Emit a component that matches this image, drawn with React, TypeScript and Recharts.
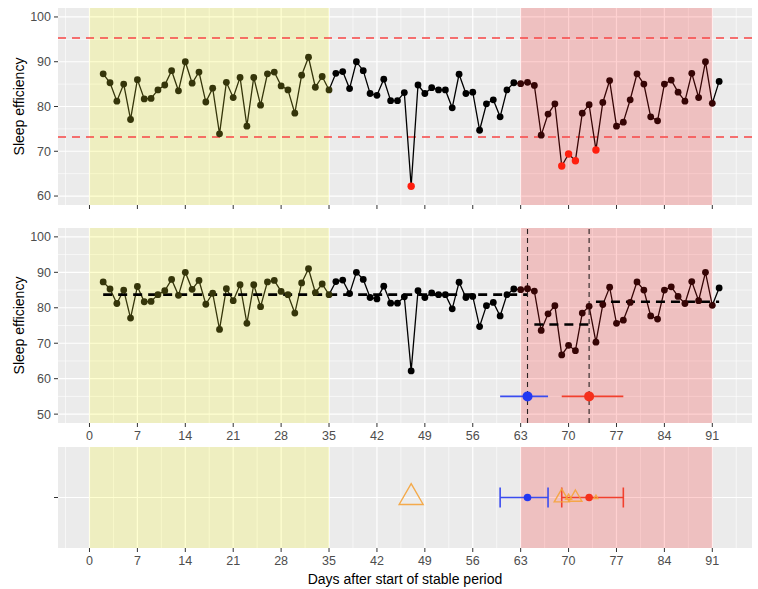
import {
  ComposedChart,
  Line,
  Scatter,
  XAxis,
  YAxis,
  CartesianGrid,
  ReferenceArea,
  ReferenceLine,
  ReferenceDot,
  ErrorBar,
} from 'recharts';

// Nightly sleep efficiency, one value per day starting at day 2
const FIRST_DAY = 2;
const sleepEfficiency = [
  87.3, 85.3, 81.2, 85.0, 77.1, 86.0, 81.7, 81.8, 83.7, 84.8, // 2-11
  88.0, 83.5, 90.0, 85.2, 87.7, 81.0, 84.1, 73.9, 85.4, 82.0, // 12-21
  86.5, 75.6, 86.5, 80.3, 87.3, 87.7, 84.6, 83.7, 78.5, 87.0, // 22-31
  91.0, 84.3, 86.7, 83.7, 87.4, 87.8, 84.0, 90.0, 88.0, 82.9, // 32-41
  82.5, 86.1, 81.3, 81.3, 83.1, 62.2, 84.8, 82.9, 84.2, 83.7, // 42-51
  83.7, 79.7, 87.2, 82.9, 83.2, 74.7, 80.6, 81.5, 77.7, 83.7, // 52-61
  85.3, 85.1, 85.4, 84.7, 73.6, 78.3, 80.6, 66.7, 69.4, 67.9, // 62-71
  78.5, 80.4, 70.3, 80.9, 85.8, 75.6, 76.5, 81.5, 87.3, 85.0, // 72-81
  77.7, 76.8, 85.0, 85.9, 83.2, 81.2, 87.4, 82.0, 90.0, 80.7, // 82-91
  85.6, // 92
];

const xTicks = [0, 7, 14, 21, 28, 35, 42, 49, 56, 63, 70, 77, 84, 91];
const xMinor = [-3.5, 3.5, 10.5, 17.5, 24.5, 31.5, 38.5, 45.5, 52.5, 59.5, 66.5, 73.5, 80.5, 87.5, 94.5];
const X_DOMAIN = [-4.6, 96.8];

const stablePeriod = [0, 35];
const testPeriod = [63, 91];

// top panel: control limits
const topTicks = [60, 70, 80, 90, 100];
const topMinor = [65, 75, 85, 95];
const upperLimit = 95.3;
const lowerLimit = 73.2;

// middle panel: segment means and change points
const midTicks = [50, 60, 70, 80, 90, 100];
const midMinor = [55, 65, 75, 85, 95];
const segStart = [2, 65, 74];
const segEnd = [64, 73, 92];
const segMean = [83.7, 75.3, 81.7];
const changeDays = [64, 73];
const changeLow = [60, 69];
const changeHigh = [67, 78];
const changeColors = ['#2438f2', '#f5301c'];
const changeLineColors = ['#3a4cf0', '#f2402e'];
const ESTIMATE_Y = 55;

// bottom panel: flagged nights
const flagDays = [47, 69, 70, 71, 74];
const flagSizes = [24, 15, 6, 13, 4];

const series = sleepEfficiency.map((v, i) => ({ day: FIRST_DAY + i, eff: v }));
const LAST_DAY = series[series.length - 1].day;
const flags = flagDays.map((d, i) => ({ day: d, y: 1, size: flagSizes[i] }));
const estimates = changeDays.map((d, i) => ({
  day: d,
  y: 1,
  err: [d - changeLow[i], changeHigh[i] - d],
}));

const FONT = '"Liberation Sans", Arial, Helvetica, sans-serif';
const tickStyle = { fill: '#4d4d4d', fontSize: 12.5, fontFamily: FONT };
const tickLine = { stroke: '#333333' };
const PANEL_BG = '#ebebeb';
const SHADE_OPACITY = 0.18;

// black marks seen through the translucent period shading
const INK = '#000000';
const INK_STABLE = '#35350a';
const INK_TEST = '#360505';
const OUTLIER = '#ff1e0e';

const inStable = (d: number) => d >= stablePeriod[0] && d <= stablePeriod[1];
const inTest = (d: number) => d >= testPeriod[0] && d <= testPeriod[1];
const inkFor = (d: number) => (inStable(d) ? INK_STABLE : inTest(d) ? INK_TEST : INK);

// line stroke tinted by period, stops relative to the line's bounding box
const frac = (d: number) => (d - FIRST_DAY) / (LAST_DAY - FIRST_DAY);
const LineGradient = ({ id }: { id: string }) => (
  <defs>
    <linearGradient id={id} x1="0" y1="0" x2="1" y2="0">
      <stop offset={0} stopColor={INK_STABLE} />
      <stop offset={frac(stablePeriod[1])} stopColor={INK_STABLE} />
      <stop offset={frac(stablePeriod[1])} stopColor={INK} />
      <stop offset={frac(testPeriod[0])} stopColor={INK} />
      <stop offset={frac(testPeriod[0])} stopColor={INK_TEST} />
      <stop offset={frac(testPeriod[1])} stopColor={INK_TEST} />
      <stop offset={frac(testPeriod[1])} stopColor={INK} />
      <stop offset={1} stopColor={INK} />
    </linearGradient>
  </defs>
);

const makeDot = (flagLow: boolean) => (p: any) => {
  const { cx, cy, payload, index } = p;
  const low = flagLow && payload.eff < lowerLimit;
  return <circle key={`d${index}`} cx={cx} cy={cy} r={low ? 3.7 : 3.4} fill={low ? OUTLIER : inkFor(payload.day)} />;
};

const yLabel = {
  value: 'Sleep efficiency',
  angle: -90,
  position: 'insideLeft' as const,
  offset: 19,
  style: { textAnchor: 'middle', fill: '#000', fontSize: 14, fontFamily: FONT },
};

const periodAreas = () => [
  <ReferenceArea
    key="stable"
    x1={stablePeriod[0]}
    x2={stablePeriod[1]}
    fill="#ffff00"
    fillOpacity={SHADE_OPACITY}
    stroke="none"
    ifOverflow="hidden"
  />,
  <ReferenceArea
    key="test"
    x1={testPeriod[0]}
    x2={testPeriod[1]}
    fill="#ff0000"
    fillOpacity={SHADE_OPACITY}
    stroke="none"
    ifOverflow="hidden"
  />,
];

const grids = (yMajor: number[], yMinor: number[]) => [
  <CartesianGrid
    key="minor"
    fill={PANEL_BG}
    stroke="#ffffff"
    strokeWidth={0.6}
    horizontalValues={yMinor}
    verticalValues={xMinor}
  />,
  <CartesianGrid
    key="major"
    stroke="#ffffff"
    strokeWidth={1.2}
    horizontalValues={yMajor}
    verticalValues={xTicks}
  />,
];

const Triangle = (props: any) => {
  const { cx, cy, payload } = props;
  const w = payload.size;
  const h = w * 0.866;
  const d = `M${cx},${cy - (2 * h) / 3} L${cx + w / 2},${cy + h / 3} L${cx - w / 2},${cy + h / 3} Z`;
  return <path d={d} fill="none" stroke="#f5a33a" strokeOpacity={0.9} strokeWidth={1.4} />;
};

const TopPanel = () => (
  <ComposedChart width={758} height={222} data={series} margin={{ top: 8, right: 6, left: 0, bottom: 5 }}>
    <LineGradient id="effTop" />
    {grids(topTicks, topMinor)}
    <XAxis
      dataKey="day"
      type="number"
      domain={X_DOMAIN}
      ticks={xTicks}
      axisLine={false}
      tickLine={tickLine}
      tickSize={4}
      tick={() => <g />}
      height={12}
      allowDataOverflow
    />
    <YAxis
      type="number"
      domain={[58, 102]}
      ticks={topTicks}
      axisLine={false}
      tickLine={tickLine}
      tickSize={4}
      tickMargin={3}
      tick={tickStyle}
      width={58}
      label={yLabel}
      allowDataOverflow
    />
    {periodAreas()}
    <ReferenceLine y={upperLimit} stroke="#f84646" strokeWidth={1.5} strokeDasharray="8 6" />
    <ReferenceLine y={lowerLimit} stroke="#f84646" strokeWidth={1.5} strokeDasharray="8 6" />
    <Line
      dataKey="eff"
      stroke="url(#effTop)"
      strokeWidth={1.3}
      dot={makeDot(true)}
      isAnimationActive={false}
    />
  </ComposedChart>
);

const MiddlePanel = () => (
  <ComposedChart width={758} height={230} data={series} margin={{ top: 10, right: 6, left: 0, bottom: 0 }}>
    <LineGradient id="effMid" />
    {grids(midTicks, midMinor)}
    <XAxis
      dataKey="day"
      type="number"
      domain={X_DOMAIN}
      ticks={xTicks}
      axisLine={false}
      tickLine={tickLine}
      tickSize={4}
      tickMargin={4}
      tick={tickStyle}
      height={25}
      allowDataOverflow
    />
    <YAxis
      type="number"
      domain={[47.5, 102.5]}
      ticks={midTicks}
      axisLine={false}
      tickLine={tickLine}
      tickSize={4}
      tickMargin={3}
      tick={tickStyle}
      width={58}
      label={yLabel}
      allowDataOverflow
    />
    {periodAreas()}
    <Line
      dataKey="eff"
      stroke="url(#effMid)"
      strokeWidth={1.3}
      dot={makeDot(false)}
      isAnimationActive={false}
    />
    {segMean.map((m, i) => (
      <ReferenceLine
        key={`seg${i}`}
        segment={[{ x: segStart[i], y: m }, { x: segEnd[i], y: m }]}
        stroke="#000"
        strokeWidth={2.6}
        strokeDasharray="9 6"
      />
    ))}
    {changeDays.map((d) => (
      <ReferenceLine key={`cp${d}`} x={d} stroke="#2a2020" strokeWidth={1.1} strokeDasharray="5 4" />
    ))}
    {changeDays.map((d, i) => (
      <ReferenceLine
        key={`ci${d}`}
        segment={[{ x: changeLow[i], y: ESTIMATE_Y }, { x: changeHigh[i], y: ESTIMATE_Y }]}
        stroke={changeLineColors[i]}
        strokeWidth={1.6}
      />
    ))}
    {changeDays.map((d, i) => (
      <ReferenceDot key={`pt${d}`} x={d} y={ESTIMATE_Y} r={5} fill={changeColors[i]} stroke="none" />
    ))}
  </ComposedChart>
);

const BottomPanel = () => (
  <ComposedChart width={758} height={149} margin={{ top: 7, right: 6, left: 0, bottom: 0 }}>
    <CartesianGrid
      fill={PANEL_BG}
      stroke="#ffffff"
      strokeWidth={0.6}
      horizontal={false}
      verticalValues={xMinor}
    />
    <CartesianGrid stroke="#ffffff" strokeWidth={1.2} horizontalValues={[1]} verticalValues={xTicks} />
    <XAxis
      dataKey="day"
      type="number"
      domain={X_DOMAIN}
      ticks={xTicks}
      axisLine={false}
      tickLine={tickLine}
      tickSize={4}
      tickMargin={4}
      tick={tickStyle}
      height={41}
      allowDataOverflow
      label={{
        value: 'Days after start of stable period',
        position: 'insideBottom',
        offset: 5,
        style: { fill: '#000', fontSize: 14, fontFamily: FONT },
      }}
    />
    <YAxis
      type="number"
      dataKey="y"
      domain={[0.4, 1.6]}
      ticks={[1]}
      tickFormatter={() => ''}
      axisLine={false}
      tickLine={tickLine}
      tickSize={4}
      width={58}
    />
    {periodAreas()}
    {estimates.map((e, i) => (
      <Scatter
        key={`est${i}`}
        data={[e]}
        dataKey="y"
        isAnimationActive={false}
        shape={(p: any) => <circle cx={p.cx} cy={p.cy} r={3.8} fill={changeColors[i]} />}
      >
        <ErrorBar dataKey="err" direction="x" width={10} stroke={changeLineColors[i]} strokeWidth={1.6} />
      </Scatter>
    ))}
    <Scatter data={flags} dataKey="y" isAnimationActive={false} shape={Triangle} />
  </ComposedChart>
);

export default function App() {
  return (
    <div
      style={{
        position: 'absolute',
        left: 0,
        top: 0,
        width: 758,
        height: 589,
        background: '#fff',
        fontFamily: FONT,
        overflow: 'hidden',
      }}
    >
      <div style={{ position: 'absolute', left: 0, top: 0 }}>
        <TopPanel />
      </div>
      <div style={{ position: 'absolute', left: 0, top: 218, background: '#fff' }}>
        <MiddlePanel />
      </div>
      <div style={{ position: 'absolute', left: 0, top: 440, background: '#fff' }}>
        <BottomPanel />
      </div>
    </div>
  );
}
